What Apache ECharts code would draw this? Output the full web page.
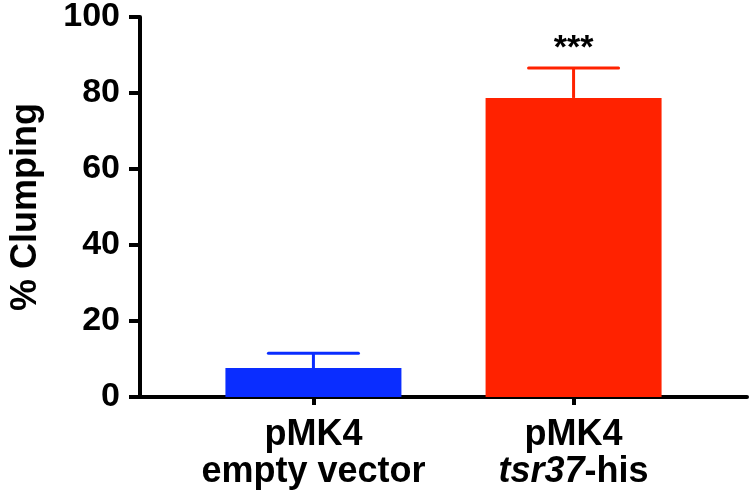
<!DOCTYPE html>
<html>
<head>
<meta charset="utf-8">
<script src="https://cdn.jsdelivr.net/npm/echarts@6/dist/echarts.min.js"></script>
<style>html,body{margin:0;padding:0;background:#fff}#c{width:750px;height:502px}</style>
</head>
<body>
<div id="c"></div>
<script>
// ---- data ----
var categories = ['pMK4\nempty vector', 'pMK4\n{i|tsr37}-his'];
var positions = [1, 2.5];
var means = [7.6, 78.7];
var errTops = [11.5, 86.6];
var significance = ['', '***'];
var barColors = ['#0a2dff', '#ff2200'];
var yTicks = [0, 20, 40, 60, 80, 100];

var chart = echarts.init(document.getElementById('c'), null, {renderer: 'canvas'});
var FONT = '"Liberation Sans", Arial, Helvetica, sans-serif';

var barData = positions.map(function (p, i) {
  return {value: [p, means[i]], itemStyle: {color: barColors[i]}};
});
var errData = positions.map(function (p, i) {
  return [p, means[i], errTops[i], i];
});

chart.setOption({
  animation: false,
  backgroundColor: '#fff',
  grid: {left: 133, right: 3, top: 16, bottom: 105},
  xAxis: {
    type: 'value',
    min: 0, max: 3.5,
    splitLine: {show: false},
    axisLine: {show: true, onZero: false, lineStyle: {color: '#000', width: 4}},
    axisTick: {show: true, customValues: positions, length: 8, lineStyle: {color: '#000', width: 4}},
    axisLabel: {
      customValues: positions,
      margin: 20,
      formatter: function (v) {
        var i = positions.indexOf(v);
        return i >= 0 ? categories[i] : '';
      },
      color: '#000', fontFamily: FONT, fontWeight: 'bold', fontSize: 36, lineHeight: 37,
      rich: {i: {fontStyle: 'italic', fontWeight: 'bold', fontFamily: FONT, fontSize: 36, lineHeight: 37, color: '#000'}}
    }
  },
  yAxis: {
    type: 'value',
    min: 0, max: 100, interval: 20,
    name: '% Clumping',
    nameLocation: 'middle',
    nameGap: 96,
    nameTextStyle: {color: '#000', fontFamily: FONT, fontWeight: 'bold', fontSize: 36},
    splitLine: {show: false},
    axisLine: {show: true, lineStyle: {color: '#000', width: 4}},
    axisTick: {show: true, length: 11, lineStyle: {color: '#000', width: 4}},
    axisLabel: {
      margin: 20,
      color: '#000', fontFamily: FONT, fontWeight: 'bold', fontSize: 34,
      formatter: function (v) { return yTicks.indexOf(v) >= 0 ? String(v) : ''; }
    }
  },
  series: [
    {
      type: 'bar',
      barWidth: 176,
      data: barData,
      z: 2
    },
    {
      type: 'custom',
      z: 3,
      data: errData,
      renderItem: function (params, api) {
        var x = api.value(0);
        var m = api.value(1);
        var t = api.value(2);
        var idx = api.value(3);
        var pMean = api.coord([x, m]);
        var pTop = api.coord([x, t]);
        var half = 45;
        var col = barColors[idx];
        var children = [
          {type: 'line', shape: {x1: pTop[0], y1: pMean[1], x2: pTop[0], y2: pTop[1]},
           style: {stroke: col, lineWidth: 3}},
          {type: 'line', shape: {x1: pTop[0] - half, y1: pTop[1], x2: pTop[0] + half, y2: pTop[1]},
           style: {stroke: col, lineWidth: 3, lineCap: 'round'}}
        ];
        if (significance[idx]) {
          children.push({type: 'text', x: pTop[0], y: pTop[1] - 2,
            style: {text: significance[idx], fill: '#000', font: 'bold 34px ' + FONT,
                    textAlign: 'center', textVerticalAlign: 'bottom'}});
        }
        return {type: 'group', children: children};
      }
    }
  ]
});
</script>
</body>
</html>
